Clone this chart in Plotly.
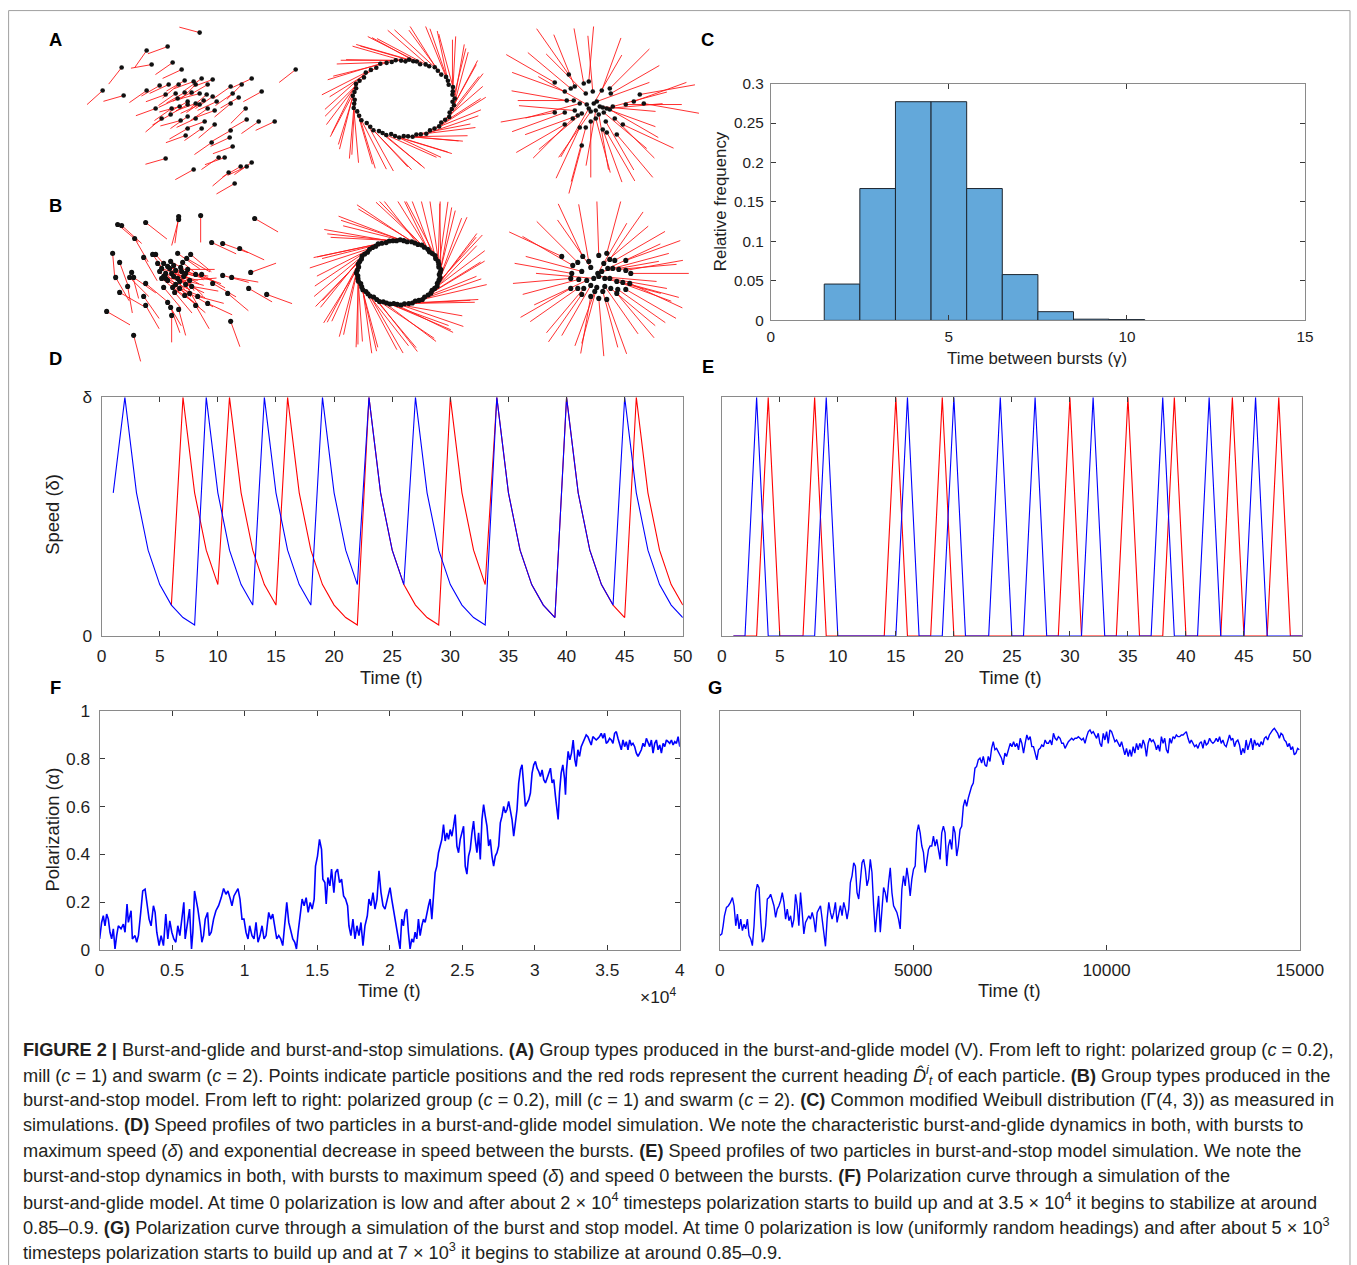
import math
import plotly.graph_objects as go

# Observed capture mapping of this environment (figure px -> photographed px):
#   photo_x = 0.9787 * fig_x + 4.4 ,  photo_y = 0.985 * fig_y + 8.4
SX, OX = 0.9787, 4.4
SY, OY = 0.985, 8.4
W, H = 1380, 1272
FONT = "Liberation Sans, Arial, Helvetica, sans-serif"
TXT = "#1e1e1e"

# ---------------- DATA ----------------
# Panel C : histogram of time between bursts
C_bin_centers = [2, 3, 4, 5, 6, 7, 8, 9, 10]
C_rel_freq = [0.046, 0.167, 0.277, 0.277, 0.167, 0.058, 0.011, 0.0015, 0.001]
C_yticks = [0, 0.05, 0.1, 0.15, 0.2, 0.25, 0.3]
C_ytext = ["0", "0.05", "0.1", "0.15", "0.2", "0.25", "0.3"]

# Panel D : burst-and-glide speed profiles (fraction of delta)
D_t_blue = list(range(1, 51))
D_blue = [0.6, 1, 0.6, 0.36, 0.216, 0.13, 0.078, 0.047, 1, 0.6,
          0.36, 0.216, 0.13, 1, 0.6, 0.36, 0.216, 0.13, 1, 0.6,
          0.36, 0.216, 1, 0.6, 0.36, 0.216, 1, 0.6, 0.36, 0.216,
          0.13, 0.078, 0.047, 1, 0.6, 0.36, 0.216, 0.13, 0.078, 1,
          0.6, 0.36, 0.216, 0.13, 1, 0.6, 0.36, 0.216, 0.13, 0.078]
D_t_red = list(range(6, 51))
D_red = [0.13, 1, 0.6, 0.36, 0.216,
         1, 0.6, 0.36, 0.216, 0.13,
         1, 0.6, 0.36, 0.216, 0.13,
         0.078, 0.047, 1, 0.6, 0.36,
         0.216, 0.13, 0.078, 0.047, 1,
         0.6, 0.36, 0.216, 1, 0.6,
         0.36, 0.216, 0.13, 0.078, 1,
         0.6, 0.36, 0.216, 0.13, 0.078,
         1, 0.6, 0.36, 0.216, 0.13]

# Panel E : burst-and-stop speed profiles
E_t = list(range(1, 51))
E_blue = [0, 0, 1, 0, 0, 0, 0, 0, 1, 0,
          0, 0, 0, 0, 0, 1, 0, 0, 0, 1,
          0, 0, 0, 1, 0, 0, 1, 0, 0, 0,
          0, 1, 0, 0, 0, 0, 0, 1, 0, 0,
          0, 1, 0, 0, 0, 1, 0, 0, 0, 0]
E_red = [0, 0, 0, 1, 0, 0, 0, 1, 0, 0,
         0, 0, 0, 0, 1, 0, 0, 0, 1, 0,
         0, 0, 0, 0, 0, 0, 0, 0, 0, 1,
         0, 0, 0, 0, 1, 0, 0, 0, 1, 0,
         0, 0, 0, 1, 0, 0, 0, 1, 0, 0]
DE_xticks = [0, 5, 10, 15, 20, 25, 30, 35, 40, 45, 50]

# Panel F : polarization, burst-and-glide (time, polarization)
F_points = [
    (0, 0.046), (138, 0.115), (253, 0.143), (369, 0.101), (484, 0.150), (599, 0.129), (714, 0.074), (829, 0.046),
    (945, 0.088), (1060, 0.004), (1175, 0.060), (1290, 0.101), (1475, 0.088), (1636, 0.108), (1751, 0.074),
    (1889, 0.192), (1981, 0.115), (2166, 0.164), (2258, 0.046), (2442, 0.060), (2557, 0.032), (2673, 0.060),
    (2834, 0.157), (2972, 0.247), (3133, 0.254), (3249, 0.199), (3410, 0.129), (3548, 0.101), (3709, 0.185),
    (3825, 0.157), (3940, 0.074), (4101, 0.018), (4239, 0.060), (4401, 0.018), (4562, 0.150), (4700, 0.046),
    (4838, 0.122), (4977, 0.074), (5115, 0.046), (5253, 0.032), (5391, 0.101), (5530, 0.060), (5668, 0.129),
    (5806, 0.199), (5898, 0.046), (6060, 0.115), (6198, 0.171), (6336, 0.004), (6428, 0.074), (6543, 0.247),
    (6659, 0.213), (6774, 0.171), (6935, 0.101), (7050, 0.032), (7165, 0.060), (7281, 0.129), (7442, 0.157),
    (7557, 0.060), (7695, 0.074), (7857, 0.129), (8018, 0.164), (8202, 0.185), (8387, 0.219), (8548, 0.257),
    (8709, 0.233), (8847, 0.247), (9009, 0.213), (9124, 0.185), (9262, 0.226), (9400, 0.240), (9539, 0.257),
    (9677, 0.213), (9815, 0.129), (9953, 0.129), (10092, 0.074), (10230, 0.046), (10345, 0.101), (10506, 0.060),
    (10644, 0.046), (10783, 0.115), (10921, 0.032), (11059, 0.060), (11197, 0.101), (11336, 0.046), (11474, 0.060),
    (11658, 0.157), (11796, 0.129), (11935, 0.150), (12073, 0.101), (12211, 0.046), (12349, 0.060), (12488, 0.046),
    (12626, 0.018), (12764, 0.101), (12902, 0.199), (13041, 0.115), (13179, 0.074), (13317, 0.046), (13455, 0.032),
    (13571, 0.004), (13686, 0.074), (13824, 0.157), (13962, 0.213), (14100, 0.185), (14239, 0.219), (14377, 0.157),
    (14515, 0.199), (14653, 0.171), (14792, 0.213), (14884, 0.351), (15022, 0.393), (15160, 0.463), (15299, 0.421),
    (15391, 0.296), (15529, 0.282), (15621, 0.192), (15736, 0.303), (15875, 0.268), (15990, 0.338), (16151, 0.240),
    (16266, 0.324), (16404, 0.338), (16543, 0.282), (16681, 0.296), (16819, 0.226), (16957, 0.213), (17096, 0.185),
    (17188, 0.101), (17326, 0.060), (17464, 0.129), (17603, 0.046), (17741, 0.101), (17879, 0.060), (18017, 0.115),
    (18156, 0.018), (18294, 0.101), (18455, 0.143), (18570, 0.213), (18708, 0.185), (18847, 0.240), (18985, 0.171),
    (19123, 0.213), (19261, 0.331), (19400, 0.240), (19538, 0.185), (19676, 0.171), (19837, 0.213),
    (20023, 0.261), (20138, 0.213), (20253, 0.171), (20369, 0.129), (20484, 0.088), (20599, 0.046), (20714, 0.004),
    (20829, 0.129), (20945, 0.101), (21060, 0.157), (21175, 0.171), (21290, 0.074), (21405, 0.004), (21521, 0.046),
    (21636, 0.032), (21751, 0.074), (21866, 0.046), (21981, 0.129), (22097, 0.060), (22212, 0.101), (22327, 0.129),
    (22442, 0.115), (22557, 0.157), (22673, 0.185), (22788, 0.213), (22903, 0.129), (23018, 0.226), (23133, 0.324),
    (23249, 0.351), (23364, 0.407), (23479, 0.435), (23594, 0.463), (23709, 0.525), (23825, 0.456), (23940, 0.490),
    (24055, 0.463), (24170, 0.504), (24285, 0.476), (24401, 0.518), (24516, 0.567), (24631, 0.435), (24746, 0.407),
    (24861, 0.463), (24977, 0.490), (25092, 0.518), (25207, 0.351), (25322, 0.317), (25437, 0.393), (25553, 0.421),
    (25668, 0.490), (25783, 0.539), (25898, 0.463), (26013, 0.407), (26129, 0.490), (26244, 0.379), (26359, 0.546),
    (26474, 0.608), (26589, 0.560), (26705, 0.518), (26820, 0.435), (26935, 0.463), (27050, 0.393), (27165, 0.351),
    (27281, 0.393), (27396, 0.407), (27511, 0.435), (27626, 0.532), (27741, 0.560), (27857, 0.601), (27972, 0.574),
    (28087, 0.588), (28202, 0.622), (28317, 0.574), (28433, 0.546), (28548, 0.476), (28663, 0.546), (28778, 0.588),
    (28893, 0.699), (29009, 0.754), (29124, 0.775), (29239, 0.671), (29354, 0.601), (29469, 0.615), (29585, 0.629),
    (29700, 0.657), (29815, 0.740), (29930, 0.775), (30045, 0.789), (30161, 0.761), (30276, 0.747), (30391, 0.726),
    (30506, 0.754), (30621, 0.713), (30737, 0.699), (30852, 0.719), (30967, 0.740), (31082, 0.761), (31197, 0.699),
    (31313, 0.713), (31428, 0.643), (31543, 0.588), (31612, 0.546), (31704, 0.657), (31820, 0.740), (31935, 0.775),
    (32050, 0.719), (32119, 0.650), (32188, 0.754), (32303, 0.831), (32419, 0.796), (32534, 0.824), (32649, 0.879),
    (32764, 0.796), (32856, 0.768), (32972, 0.838), (33087, 0.810), (33202, 0.851), (33317, 0.865), (33432, 0.879),
    (33548, 0.900), (33663, 0.893), (33778, 0.872), (33893, 0.858), (34008, 0.893), (34124, 0.886), (34239, 0.879),
    (34354, 0.886), (34469, 0.893), (34584, 0.907), (34700, 0.886), (34815, 0.907), (34930, 0.865), (35045, 0.872),
    (35160, 0.886), (35276, 0.879), (35391, 0.865), (35506, 0.907), (35621, 0.914), (35736, 0.886), (35852, 0.865),
    (35967, 0.838), (36082, 0.879), (36197, 0.851), (36312, 0.872), (36428, 0.838), (36543, 0.879), (36658, 0.858),
    (36773, 0.865), (36888, 0.851), (37004, 0.824), (37119, 0.810), (37234, 0.824), (37349, 0.838), (37464, 0.865),
    (37580, 0.851), (37695, 0.886), (37810, 0.865), (37925, 0.851), (38040, 0.879), (38156, 0.824), (38271, 0.865),
    (38386, 0.879), (38501, 0.838), (38616, 0.858), (38732, 0.824), (38847, 0.865), (38962, 0.851), (39077, 0.879),
    (39192, 0.872), (39308, 0.865), (39423, 0.879), (39538, 0.858), (39653, 0.872), (39768, 0.865), (39884, 0.893),
    (40000, 0.851),
]
F_xticks = [0, 5000, 10000, 15000, 20000, 25000, 30000, 35000, 40000]
F_xtext = ["0", "0.5", "1", "1.5", "2", "2.5", "3", "3.5", "4"]
F_yticks = [0, 0.2, 0.4, 0.6, 0.8, 1]
F_ytext = ["0", "0.2", "0.4", "0.6", "0.8", "1"]

# Panel G : polarization, burst-and-stop (time, polarization)
G_points = [
    (0, 0.060), (52, 0.067), (86, 0.101), (120, 0.143), (172, 0.178), (223, 0.185), (275, 0.199), (326, 0.219),
    (369, 0.185), (412, 0.101), (455, 0.150), (498, 0.088), (541, 0.129), (584, 0.081), (627, 0.108), (670, 0.088),
    (713, 0.129), (756, 0.060), (799, 0.046), (842, 0.018), (885, 0.101), (928, 0.240), (971, 0.275), (1014, 0.261),
    (1057, 0.129), (1100, 0.032), (1142, 0.046), (1185, 0.101), (1228, 0.213), (1271, 0.219), (1314, 0.233),
    (1357, 0.213), (1400, 0.185), (1443, 0.136), (1486, 0.171), (1529, 0.185), (1572, 0.206), (1615, 0.240),
    (1658, 0.199), (1701, 0.129), (1744, 0.171), (1787, 0.122), (1830, 0.143), (1873, 0.094), (1916, 0.129),
    (1959, 0.233), (2001, 0.185), (2044, 0.101), (2087, 0.240), (2130, 0.157), (2173, 0.067), (2216, 0.115),
    (2259, 0.129), (2302, 0.143), (2345, 0.129), (2388, 0.157), (2431, 0.129), (2474, 0.074), (2517, 0.157),
    (2560, 0.171), (2603, 0.185), (2646, 0.129), (2689, 0.060), (2732, 0.015), (2775, 0.129), (2818, 0.199),
    (2860, 0.157), (2903, 0.129), (2946, 0.157), (2989, 0.199), (3032, 0.115), (3075, 0.157), (3118, 0.185),
    (3161, 0.143), (3204, 0.199), (3247, 0.171), (3290, 0.129), (3333, 0.171), (3376, 0.282), (3419, 0.310),
    (3462, 0.365), (3505, 0.351), (3548, 0.240), (3591, 0.213), (3634, 0.296), (3677, 0.365), (3719, 0.379),
    (3762, 0.338), (3805, 0.268), (3848, 0.296), (3891, 0.379), (3934, 0.324), (3977, 0.185), (4020, 0.074),
    (4063, 0.157), (4106, 0.226), (4149, 0.074), (4192, 0.185), (4235, 0.261), (4278, 0.240), (4321, 0.199),
    (4364, 0.282), (4407, 0.344), (4450, 0.240), (4493, 0.185), (4536, 0.171), (4578, 0.157), (4621, 0.129),
    (4664, 0.088), (4707, 0.254), (4750, 0.310), (4793, 0.268), (4836, 0.344), (4879, 0.296), (4922, 0.226),
    (4965, 0.296), (5008, 0.338), (5051, 0.351), (5094, 0.490), (5137, 0.525), (5180, 0.490), (5223, 0.435),
    (5266, 0.407), (5309, 0.324), (5352, 0.379), (5395, 0.421), (5437, 0.435), (5480, 0.435), (5523, 0.476),
    (5566, 0.435), (5609, 0.463), (5652, 0.421), (5695, 0.379), (5738, 0.490), (5781, 0.518), (5824, 0.490),
    (5867, 0.351), (5910, 0.435), (5953, 0.463), (5996, 0.421), (6039, 0.518), (6082, 0.490), (6125, 0.393),
    (6168, 0.435), (6211, 0.504), (6254, 0.518), (6296, 0.601), (6339, 0.629), (6382, 0.601), (6425, 0.636),
    (6468, 0.664), (6511, 0.685), (6554, 0.699), (6597, 0.761), (6640, 0.768), (6683, 0.796), (6726, 0.803),
    (6769, 0.782), (6812, 0.810), (6855, 0.775), (6898, 0.768), (6941, 0.810), (6984, 0.789), (7027, 0.844),
    (7070, 0.872), (7113, 0.838), (7155, 0.844), (7198, 0.831), (7241, 0.817), (7284, 0.803), (7327, 0.775),
    (7370, 0.824), (7413, 0.810),
    (7509, 0.865), (7552, 0.851), (7595, 0.872), (7638, 0.851), (7681, 0.865), (7724, 0.838), (7767, 0.886),
    (7810, 0.865), (7853, 0.824), (7895, 0.865), (7938, 0.900), (7981, 0.879), (8024, 0.893), (8067, 0.851),
    (8110, 0.851), (8153, 0.824), (8196, 0.796), (8239, 0.838), (8282, 0.844), (8325, 0.858), (8368, 0.851),
    (8411, 0.879), (8454, 0.865), (8497, 0.865), (8540, 0.879), (8583, 0.858), (8626, 0.907), (8669, 0.886),
    (8712, 0.879), (8754, 0.893), (8797, 0.886), (8840, 0.865), (8883, 0.865), (8926, 0.844), (8969, 0.858),
    (9012, 0.872), (9055, 0.879), (9098, 0.886), (9141, 0.879), (9184, 0.886), (9227, 0.886), (9270, 0.893),
    (9313, 0.886), (9356, 0.879), (9399, 0.886), (9442, 0.865), (9485, 0.893), (9528, 0.914), (9571, 0.921),
    (9613, 0.907), (9656, 0.914), (9699, 0.900), (9742, 0.886), (9785, 0.907), (9828, 0.865), (9871, 0.851),
    (9914, 0.907), (9957, 0.879), (10000, 0.914), (10043, 0.865), (10086, 0.921), (10129, 0.914), (10172, 0.893),
    (10215, 0.872), (10258, 0.879), (10301, 0.865), (10344, 0.851), (10387, 0.872), (10430, 0.838), (10472, 0.817),
    (10515, 0.844), (10558, 0.810), (10601, 0.838), (10644, 0.810), (10687, 0.851), (10730, 0.824), (10773, 0.865),
    (10816, 0.838), (10859, 0.865), (10902, 0.844), (10945, 0.879), (10988, 0.858), (11031, 0.810), (11074, 0.865),
    (11117, 0.886), (11160, 0.872), (11203, 0.879), (11246, 0.865), (11289, 0.838), (11331, 0.858), (11374, 0.831),
    (11417, 0.893), (11460, 0.865), (11503, 0.886), (11546, 0.838), (11589, 0.824), (11632, 0.886), (11675, 0.865),
    (11718, 0.893), (11761, 0.886), (11804, 0.900), (11847, 0.893), (11890, 0.893), (11933, 0.900), (11976, 0.900),
    (12019, 0.907), (12062, 0.914), (12105, 0.886), (12148, 0.865), (12190, 0.879), (12233, 0.865), (12276, 0.851),
    (12319, 0.858), (12362, 0.844), (12405, 0.865), (12448, 0.872), (12491, 0.844), (12534, 0.879), (12577, 0.858),
    (12620, 0.865), (12663, 0.886), (12706, 0.872), (12749, 0.865), (12792, 0.872), (12835, 0.886), (12878, 0.872),
    (12921, 0.893), (12964, 0.865), (13007, 0.879), (13049, 0.858), (13092, 0.851), (13135, 0.872), (13178, 0.900),
    (13221, 0.879), (13264, 0.886), (13307, 0.851), (13350, 0.872), (13393, 0.879), (13436, 0.858), (13479, 0.817),
    (13522, 0.844), (13565, 0.824), (13608, 0.879), (13651, 0.838), (13694, 0.865), (13737, 0.886), (13780, 0.838),
    (13823, 0.879), (13866, 0.858), (13908, 0.865), (13951, 0.851), (13994, 0.872), (14037, 0.858), (14080, 0.886),
    (14123, 0.893), (14166, 0.879), (14209, 0.900), (14252, 0.914), (14295, 0.921), (14338, 0.928), (14381, 0.914),
    (14424, 0.907), (14467, 0.886), (14510, 0.907), (14553, 0.900), (14596, 0.879), (14639, 0.872), (14682, 0.851),
    (14725, 0.865), (14767, 0.838), (14810, 0.851), (14853, 0.817), (14896, 0.824), (14939, 0.844), (14982, 0.838),
]
G_xticks = [0, 5000, 10000, 15000]
G_xtext = ["0", "5000", "10000", "15000"]

# Panels A / B : particle positions (x, y) and heading (degrees)
A1_particles = [
    (9, 74, 165), (-23, 60, 200), (-44, 56, 235), (-39, 42, 190), (-18, 44, 215), (-69, 39, 232), (-88, 16, 222),
    (-67, 11, 196), (-44, 16, 215), (-31, 21, 210), (-22, 22, 205), (-12, 22, 220), (-6, 26, 210), (3, 25, 200),
    (11, 28, 215), (5, 22, 225), (-9, 37, 205), (17, 22, 210), (22, 27, 200), (40, 20, 215), (51, 22, 225),
    (61, 28, 205), (71, 15, 209), (105, 37, 218), (-25, 12, 200), (-15, 13, 215), (-6, 14, 210), (1, 14, 205),
    (9, 13, 195), (16, 12, 220), (22, 10, 215), (-13, 8, 205), (-3, 5, 210), (5, 3, 200), (13, 6, 215),
    (26, 5, 205), (42, 13, 215), (48, 9, 210), (40, 3, 220), (-35, -2, 200), (-19, -2, 215), (-11, 0, 195),
    (-3, 2, 210), (9, 2, 205), (17, -2, 215), (24, -4, 200), (-29, -12, 220), (-20, -8, 210), (-10, -14, 195),
    (-3, -10, 215), (5, -12, 205), (14, -15, 200), (55, -2, 225), (56, -13, 210), (68, -15, 215), (84, -15, 205),
    (-3, -22, 210), (-5, -29, 200), (11, -22, 215), (24, -18, 220), (40, -24, 210), (39, -31, 205), (21, -36, 215),
    (42, -40, 200), (-25, -52, 196), (3, -63, 209), (28, -51, 215), (34, -51, 200), (50, -60, 210), (56, -60, 205),
    (61, -56, 215), (38, -66, 220), (44, -77, 210),
]
# mill: (angle around ring in degrees, radius factor, outward tilt of heading)
A2_ring = [
    (0, 1.02, 10), (6, 0.98, 6), (11, 1.0, 14), (17, 1.03, 2), (22, 0.97, 10), (28, 1.0, 9), (34, 1.02, 12),
    (40, 0.98, 4), (47, 1.0, 15), (53, 1.03, 6), (59, 0.99, 10), (64, 1.0, 2), (70, 0.96, 9), (75, 1.01, 12),
    (79, 1.0, 5), (84, 1.03, 10), (88, 0.98, 14), (93, 1.0, 4), (99, 1.02, 9), (104, 0.99, 12), (110, 1.0, 6),
    (117, 1.03, 10), (124, 0.98, 2), (131, 1.0, 14), (138, 1.02, 6), (145, 0.97, 10), (152, 1.0, 9),
    (158, 1.03, 4), (164, 0.99, 12), (170, 1.0, 7), (176, 1.02, 10), (182, 0.98, 5), (188, 1.0, 13),
    (194, 1.03, 9), (200, 0.99, 4), (207, 1.0, 10), (214, 1.02, 7), (221, 0.98, 12), (228, 1.0, 5),
    (234, 1.03, 10), (240, 0.99, 9), (245, 1.0, 15), (250, 1.02, 4), (255, 0.97, 10), (260, 1.0, 7),
    (265, 1.03, 12), (270, 0.99, 5), (275, 1.0, 10), (280, 1.02, 9), (285, 0.98, 4), (290, 1.0, 13),
    (296, 1.03, 7), (302, 0.99, 10), (308, 1.0, 5), (314, 1.02, 12), (320, 0.98, 9), (326, 1.0, 4),
    (332, 1.03, 10), (338, 0.99, 7), (344, 1.0, 12), (350, 1.02, 5), (355, 0.98, 9),
]
A3_particles = [
    (-26, 32, 125), (-40, 24, 150), (-30, 15, 160), (-24, 18, 140), (-20, 20, 112), (-11, 23, 100), (-6, 25, 85),
    (-9, 13, 135), (-2, 15, 95), (7, 16, 70), (15, 18, 45), (16, 13, 30), (45, 12, 10), (-28, 6, 170),
    (-21, 6, 180), (-15, 3, 195), (-8, 2, 150), (-1, 3, 60), (2, 5, 20), (5, 0, 355), (8, -1, 340), (12, -2, 5),
    (18, 0, 15), (31, 2, 0), (39, 5, 20), (49, 3, 350), (-40, -6, 190), (-30, -6, 200), (-20, -4, 175),
    (-13, -7, 220), (-6, -2, 240), (1, -4, 260), (9, -6, 320), (15, -3, 330), (-30, -18, 210), (-15, -21, 245),
    (-9, -21, 255), (-4, -15, 270), (1, -12, 285), (11, -15, 300), (20, -12, 315), (28, -18, 335), (8, -23, 290),
    (12, -26, 300), (22, -28, 310), (-13, -39, 255), (-22, -12, 225), (-17, -9, 200), (4, -8, 280), (-4, -5, 235),
]
B1_particles = [
    (-58, 52, 320), (-54, 51, 318), (-30, 54, 322), (3, 60, 262), (3, 57, 255), (25, 61, 270), (79, 58, 330),
    (-41, 38, 300), (36, 34, 335), (47, 33, 340), (64, 28, 335), (-63, 23, 275), (-56, 14, 290), (-32, 19, 300),
    (-20, 22, 310), (-23, 22, 305), (2, 23, 325), (15, 22, 320), (11, 18, 330), (-44, 4, 285), (-60, -1, 300),
    (-46, -1, 315), (-42, -1, 325), (-48, -10, 280), (-56, -16, 330), (-30, -7, 320), (-18, 13, 310),
    (-12, 13, 330), (-8, 10, 340), (-2, 11, 300), (-16, 5, 315), (-10, 3, 335), (-4, 3, 345), (6, 5, 350),
    (12, 7, 0), (20, 2, 340), (26, 2, 330), (-14, -2, 320), (-10, -2, 335), (2, -2, 345), (8, 0, 315),
    (14, -4, 5), (-12, -11, 310), (-3, -11, 325), (4, -12, 340), (14, -17, 330), (22, -20, 345), (9, -19, 320),
    (-8, -26, 300), (3, -33, 285), (-5, -31, 290), (-4, -39, 270), (-32, -20, 305), (-30, -29, 300),
    (47, 1, 345), (56, -1, 350), (75, 4, 20), (73, -12, 330), (91, -18, 340), (52, -17, 320), (37, -7, 330),
    (32, -27, 335), (20, -29, 300), (55, -45, 290), (-69, -35, 330), (-42, -59, 285),
    (-6, 8, 320), (0, 6, 330), (5, 9, 300), (-2, 0, 310), (4, -5, 335), (-8, -4, 325), (10, 3, 345),
    (0, -8, 315), (-5, 15, 330), (7, 14, 320), (-14, 8, 340), (16, -10, 350), (-1, -16, 310), (10, -8, 300),
    (-12, 0, 345),
]
B2_ring = [
    (0, 1.0, 10), (5, 1.02, 4), (10, 0.98, 18), (15, 1.0, 7), (20, 1.01, 22), (26, 0.99, 12), (31, 1.02, 3),
    (36, 1.0, 15), (41, 0.98, 9), (46, 1.01, 20), (52, 1.0, 5), (57, 1.02, 13), (62, 0.99, 24), (67, 1.0, 8),
    (72, 1.01, 16), (78, 0.98, 2), (83, 1.0, 11), (88, 1.02, 19), (93, 0.99, 6), (98, 1.0, 14), (103, 1.01, 23),
    (108, 0.98, 4), (114, 1.0, 12), (119, 1.02, 17), (124, 0.99, 7), (129, 1.0, 21), (134, 1.01, 10),
    (140, 0.98, 3), (145, 1.0, 15), (150, 1.02, 9), (155, 0.99, 19), (160, 1.0, 5), (165, 1.01, 13),
    (170, 0.98, 22), (176, 1.0, 8), (181, 1.02, 16), (186, 0.99, 2), (191, 1.0, 11), (196, 1.01, 18),
    (201, 0.98, 6), (207, 1.0, 14), (212, 1.02, 24), (217, 0.99, 9), (222, 1.0, 4), (227, 1.01, 17),
    (232, 0.98, 12), (238, 1.0, 20), (243, 1.02, 7), (248, 0.99, 15), (253, 1.0, 3), (258, 1.01, 11),
    (263, 0.98, 19), (268, 1.0, 8), (273, 1.02, 22), (278, 0.99, 5), (284, 1.0, 13), (289, 1.01, 16),
    (294, 0.98, 2), (299, 1.0, 10), (304, 1.02, 21), (309, 0.99, 7), (315, 1.0, 14), (320, 1.01, 4),
    (325, 0.98, 18), (330, 1.0, 9), (335, 1.02, 12), (340, 0.99, 23), (346, 1.0, 6), (351, 1.01, 15),
    (356, 0.98, 10),
]
B3_particles = [
    (-36, 22, 155), (-25, 13, 150), (-20, 16, 135), (-15, 22, 115), (-9, 17, 100), (1, 23, 92), (9, 25, 75),
    (12, 19, 55), (6, 15, 40), (17, 18, 30), (28, 18, 20), (-26, 5, 170), (-16, 7, 165), (-7, 11, 125),
    (0, 5, 60), (4, 7, 10), (10, 10, 25), (15, 10, 15), (21, 9, 5), (28, 8, 10), (33, 5, 0), (-27, 0, 185),
    (-19, -1, 195), (-11, -2, 205), (-4, 0, 175), (1, 2, 355), (7, 0, 345), (12, 0, 350), (19, -3, 340),
    (25, -4, 345), (32, -5, 335), (-27, -10, 210), (-20, -10, 215), (-14, -10, 230), (-7, -7, 240),
    (-1, -9, 255), (7, -8, 305), (13, -10, 320), (20, -11, 325), (28, -11, 330), (-16, -16, 235),
    (-7, -18, 260), (1, -20, 275), (9, -21, 290), (19, -15, 310), (-3, -13, 250), (5, -13, 285),
]

CAPTION = [
    "<b>FIGURE 2 |</b> Burst-and-glide and burst-and-stop simulations. <b>(A)</b> Group types produced in the burst-and-glide model (V). From left to right: polarized group (<i>c</i> = 0.2),",
    "mill (<i>c</i> = 1) and swarm (<i>c</i> = 2). Points indicate particle positions and the red rods represent the current heading <i>D̂</i><sup><i>i</i></sup><sub><i>t</i></sub> of each particle. <b>(B)</b> Group types produced in the",
    "burst-and-stop model. From left to right: polarized group (<i>c</i> = 0.2), mill (<i>c</i> = 1) and swarm (<i>c</i> = 2). <b>(C)</b> Common modified Weibull distribution (Γ(4, 3)) as measured in",
    "simulations. <b>(D)</b> Speed profiles of two particles in a burst-and-glide model simulation. We note the characteristic burst-and-glide dynamics in both, with bursts to",
    "maximum speed (<i>δ</i>) and exponential decrease in speed between the bursts. <b>(E)</b> Speed profiles of two particles in burst-and-stop model simulation. We note the",
    "burst-and-stop dynamics in both, with bursts to maximum speed (<i>δ</i>) and speed 0 between the bursts. <b>(F)</b> Polarization curve through a simulation of the",
    "burst-and-glide model. At time 0 polarization is low and after about 2 × 10<sup>4</sup> timesteps polarization starts to build up and at 3.5 × 10<sup>4</sup> it begins to stabilize at around",
    "0.85–0.9. <b>(G)</b> Polarization curve through a simulation of the burst and stop model. At time 0 polarization is low (uniformly random headings) and after about 5 × 10<sup>3</sup>",
    "timesteps polarization starts to build up and at 7 × 10<sup>3</sup> it begins to stabilize at around 0.85–0.9.",
]

# ---------------- LAYOUT HELPERS (target photo pixel -> figure fraction) ----------------
def fx(px):
    return (px - OX) / SX


def fy(py):
    return (py - OY) / SY


def fs(size):
    return size / SX


def dom_x(p0, p1):
    return [fx(p0) / W, fx(p1) / W]


def dom_y(top, bot):
    return [1 - fy(bot) / H, 1 - fy(top) / H]


def frame_axis(domain, anchor, rng, tickvals=None, ticktext=None, size=17, ticks="inside",
               showlabels=True, standoff=None):
    d = dict(domain=domain, anchor=anchor, range=rng, showline=True, linecolor="#8a8a8a",
             linewidth=1, mirror=("ticks" if ticks else True), ticks=ticks, ticklen=5, tickwidth=1,
             tickcolor="#3a3a3a", showgrid=False, zeroline=False, showticklabels=showlabels,
             tickfont=dict(family=FONT, size=fs(size), color=TXT), fixedrange=True)
    d["tickmode"] = "array"
    d["tickvals"] = tickvals if tickvals is not None else []
    if tickvals is not None:
        d["ticktext"] = ticktext if ticktext is not None else [str(v) for v in tickvals]
    if standoff is not None:
        d["ticklabelstandoff"] = standoff
    return d


layout = dict(width=W, height=H, margin=dict(l=0, r=0, t=0, b=0), paper_bgcolor="white",
              plot_bgcolor="white", showlegend=False, font=dict(family=FONT, color=TXT))

# C
layout["xaxis"] = frame_axis(dom_x(770, 1304), "y", [0, 15], [0, 5, 10, 15], size=15, standoff=2)
layout["yaxis"] = frame_axis(dom_y(82, 319), "x", [0, 0.3], C_yticks, C_ytext, size=15, standoff=3)
# D
layout["xaxis2"] = frame_axis(dom_x(101, 682), "y2", [0, 50], DE_xticks, size=17, standoff=4)
layout["yaxis2"] = frame_axis(dom_y(396, 635), "x2", [0, 1], [0, 1], ["0", "δ"], size=17, standoff=5)
# E
layout["xaxis3"] = frame_axis(dom_x(721, 1301), "y3", [0, 50], DE_xticks, size=17, standoff=4)
layout["yaxis3"] = frame_axis(dom_y(396, 635), "x3", [0, 1], ticks="", showlabels=False)
# F
layout["xaxis4"] = frame_axis(dom_x(99, 679), "y4", [0, 40000], F_xticks, F_xtext, size=17, standoff=4)
layout["yaxis4"] = frame_axis(dom_y(710, 949), "x4", [0, 1], F_yticks, F_ytext, size=17, standoff=5)
# G
layout["xaxis5"] = frame_axis(dom_x(719, 1299), "y5", [0, 15000], G_xticks, G_xtext, size=17, standoff=4)
layout["yaxis5"] = frame_axis(dom_y(710, 949), "x5", [0, 1], ticks="", showlabels=False)

fig = go.Figure()

# ---------------- TRACES ----------------
fig.add_trace(go.Bar(x=C_bin_centers, y=C_rel_freq, width=1,
                     marker=dict(color="#63a8da", line=dict(color="#1d2630", width=1)),
                     xaxis="x", yaxis="y"))

fig.add_trace(go.Scatter(x=D_t_red, y=D_red, mode="lines", line=dict(color="#ff0000", width=1.1),
                         xaxis="x2", yaxis="y2"))
fig.add_trace(go.Scatter(x=D_t_blue, y=D_blue, mode="lines", line=dict(color="#0000ff", width=1.1),
                         xaxis="x2", yaxis="y2"))

fig.add_trace(go.Scatter(x=E_t, y=E_red, mode="lines", line=dict(color="#ff0000", width=1.1),
                         xaxis="x3", yaxis="y3"))
fig.add_trace(go.Scatter(x=E_t, y=E_blue, mode="lines", line=dict(color="#0000ff", width=1.1),
                         xaxis="x3", yaxis="y3"))

fig.add_trace(go.Scatter(x=[p[0] for p in F_points], y=[p[1] for p in F_points], mode="lines",
                         line=dict(color="#0000ff", width=1.6), xaxis="x4", yaxis="y4"))
fig.add_trace(go.Scatter(x=[p[0] for p in G_points], y=[p[1] for p in G_points], mode="lines",
                         line=dict(color="#0000ff", width=1.4), xaxis="x5", yaxis="y5"))


def particle_panel(idx, box, center, particles, rod_len, dot_size):
    x0, x1, y0, y1 = box
    cx, cy = center
    layout["xaxis%d" % idx] = dict(domain=dom_x(x0, x1), anchor="y%d" % idx, range=[x0 - cx, x1 - cx],
                                   visible=False, fixedrange=True)
    layout["yaxis%d" % idx] = dict(domain=dom_y(y0, y1), anchor="x%d" % idx, range=[cy - y1, cy - y0],
                                   visible=False, fixedrange=True)
    rx, ry = [], []
    for (px, py, hd) in particles:
        a = math.radians(hd)
        rx += [px, px + rod_len * math.cos(a), None]
        ry += [py, py + rod_len * math.sin(a), None]
    fig.add_trace(go.Scatter(x=rx, y=ry, mode="lines", line=dict(color="#ff1a1a", width=0.9),
                             xaxis="x%d" % idx, yaxis="y%d" % idx, hoverinfo="skip"))
    fig.add_trace(go.Scatter(x=[p[0] for p in particles], y=[p[1] for p in particles], mode="markers",
                             marker=dict(color="#111111", size=dot_size),
                             xaxis="x%d" % idx, yaxis="y%d" % idx))


def ring_to_particles(ring, radius_x, radius_y):
    out = []
    for (th, rf, tilt) in ring:
        a = math.radians(th)
        out.append((radius_x * rf * math.cos(a), radius_y * rf * math.sin(a), th + 90 - tilt))
    return out


particle_panel(6, (82, 312, 18, 198), (190, 105), A1_particles, 21, 4.6)
particle_panel(7, (316, 494, 25, 192), (403, 97), ring_to_particles(A2_ring, 50, 38), 55, 4.6)
particle_panel(8, (500, 700, 25, 192), (594, 105), A3_particles, 56, 4.6)
particle_panel(9, (88, 306, 200, 365), (175, 275), B1_particles, 27, 5.1)
particle_panel(10, (308, 498, 200, 352), (398, 271), ring_to_particles(B2_ring, 41.5, 32), 66, 5.1)
particle_panel(11, (503, 697, 200, 358), (597, 277), B3_particles, 58, 5.1)

# ---------------- ANNOTATIONS ----------------
ann = []


def text(t, x, y, size, angle=0, xanchor="center", yanchor="middle", color=TXT):
    ann.append(dict(text=t, x=fx(x) / W, y=1 - fy(y) / H, xref="paper", yref="paper",
                    showarrow=False, xanchor=xanchor, yanchor=yanchor, textangle=angle,
                    font=dict(family=FONT, size=fs(size), color=color), align="left"))


for lab, x, y in [("A", 55, 38), ("B", 55, 204), ("C", 707, 38), ("D", 55, 357), ("E", 707, 365),
                  ("F", 55, 686), ("G", 714, 686)]:
    text("<b>%s</b>" % lab, x, y, 18, color="#000000")

text("Relative frequency", 720, 200, 16.5, angle=-90)
text("Time between bursts (γ)", 1036, 357, 16.5)
text("Speed (δ)", 52, 513, 18, angle=-90)
text("Time (t)", 391, 676, 18)
text("Time (t)", 1010, 676, 18)
text("Polarization (α)", 52, 829, 18, angle=-90)
text("Time (t)", 389, 990, 18)
text("Time (t)", 1009, 990, 18)
text("×10<sup>4</sup>", 657, 995, 17)

caption_y = [1049, 1074, 1099.5, 1124.5, 1150, 1175, 1200, 1225, 1250]
for line, yy in zip(CAPTION, caption_y):
    text(line, 20, yy, 17.8, xanchor="left", color="#231f20")

layout["annotations"] = ann
# outer figure frame (photo x 8..1349, top at 8, bottom running off the page)
layout["shapes"] = [dict(type="rect", xref="paper", yref="paper", x0=fx(8) / W, x1=fx(1349) / W,
                         y0=-0.05, y1=1 - max(fy(8), 0.6) / H, line=dict(color="#a0a0a0", width=1),
                         fillcolor="rgba(0,0,0,0)", layer="below")]

fig.update_layout(**layout)
fig.write_html("out.html")
